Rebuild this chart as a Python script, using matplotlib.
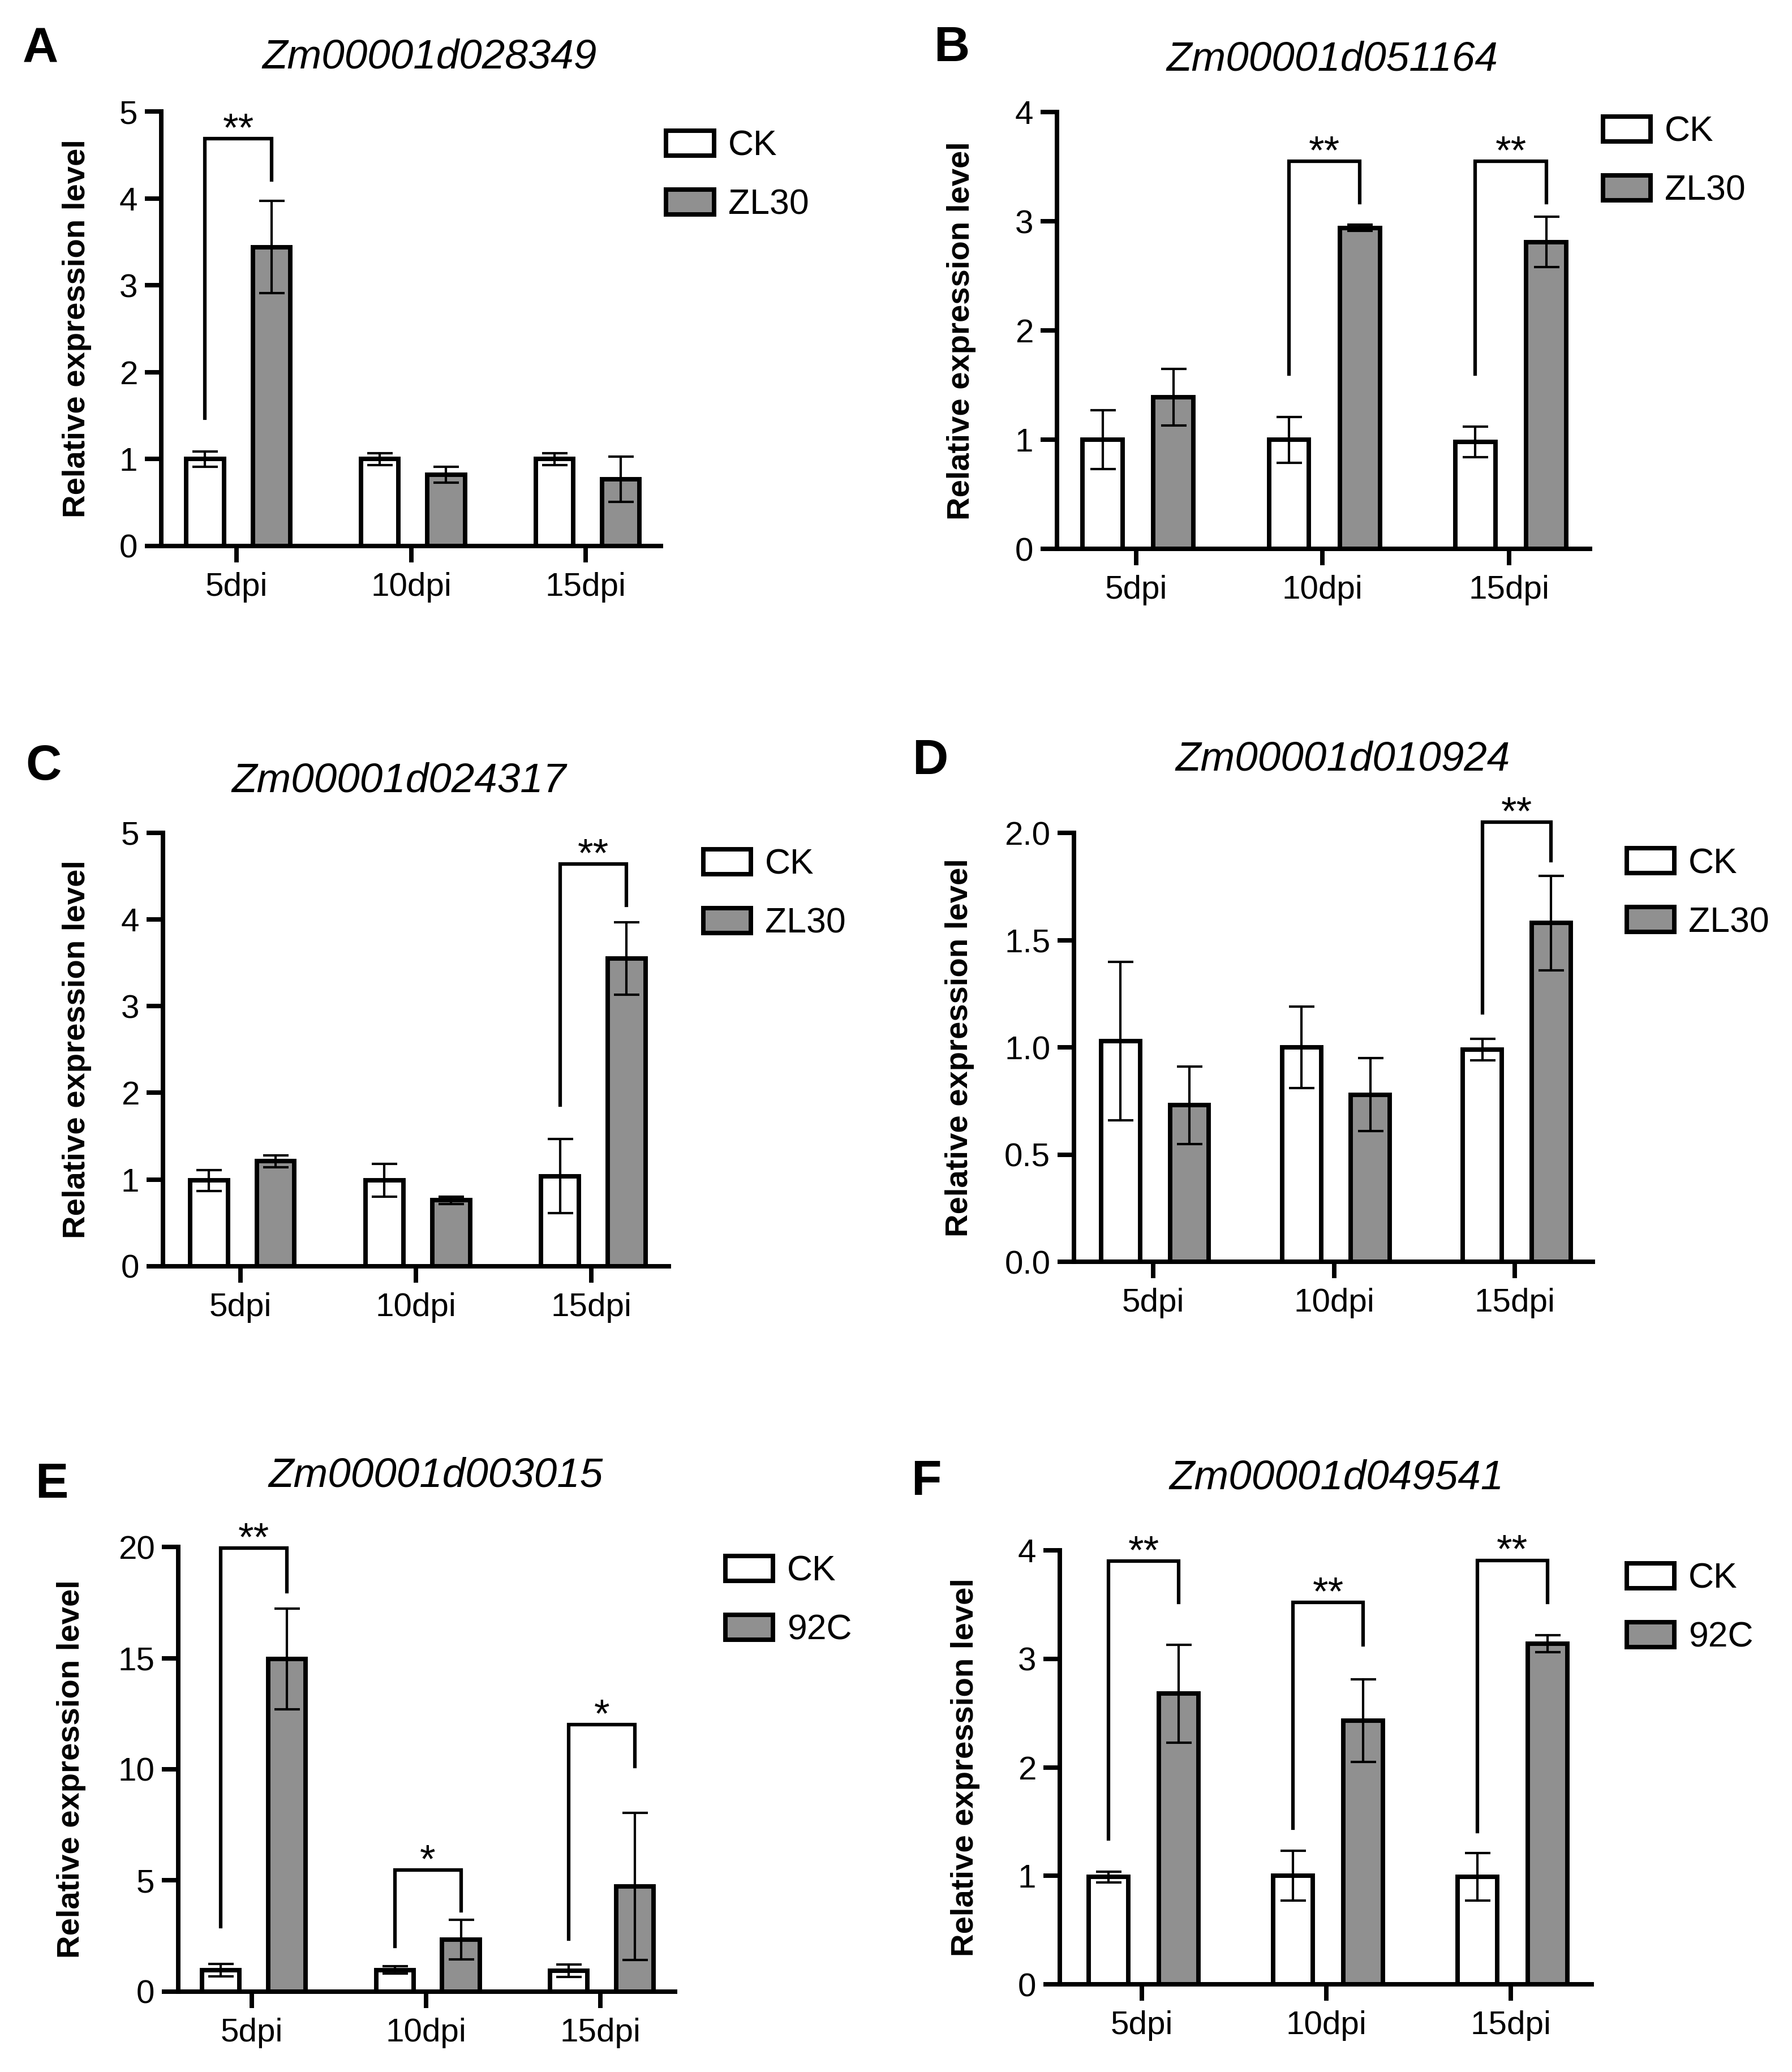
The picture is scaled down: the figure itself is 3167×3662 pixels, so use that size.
import numpy as np
import matplotlib
matplotlib.use('Agg')
import matplotlib.pyplot as plt

plt.rcParams['font.family'] = ['Liberation Sans', 'DejaVu Sans']

# ---- data ----
categories = ['5dpi', '10dpi', '15dpi']
genes = ['Zm00001d028349', 'Zm00001d051164', 'Zm00001d024317',
         'Zm00001d010924', 'Zm00001d003015', 'Zm00001d049541']
letters = ['A', 'B', 'C', 'D', 'E', 'F']
treatments = ['ZL30', 'ZL30', 'ZL30', 'ZL30', '92C', '92C']

a_ck = [1.00, 1.00, 1.00]
a_ck_err = [0.09, 0.07, 0.07]
a_trt = [3.44, 0.82, 0.77]
a_trt_err = [0.53, 0.09, 0.26]
a_sig = [(0, 4.69, 1.47, 4.21, '**')]
a_yticks = [0, 1, 2, 3, 4, 5]

b_ck = [1.00, 1.00, 0.98]
b_ck_err = [0.27, 0.21, 0.14]
b_trt = [1.39, 2.94, 2.81]
b_trt_err = [0.26, 0.03, 0.23]
b_sig = [(1, 3.55, 1.60, 3.17, '**'), (2, 3.55, 1.60, 3.17, '**')]
b_yticks = [0, 1, 2, 3, 4]

c_ck = [0.99, 0.99, 1.04]
c_ck_err = [0.12, 0.19, 0.43]
c_trt = [1.21, 0.76, 3.55]
c_trt_err = [0.07, 0.04, 0.42]
c_sig = [(2, 4.64, 1.86, 4.16, '**')]
c_yticks = [0, 1, 2, 3, 4, 5]

d_ck = [1.03, 1.00, 0.99]
d_ck_err = [0.37, 0.19, 0.05]
d_trt = [0.73, 0.78, 1.58]
d_trt_err = [0.18, 0.17, 0.22]
d_sig = [(2, 2.05, 1.16, 1.87, '**')]
d_yticks = [0.0, 0.5, 1.0, 1.5, 2.0]

e_ck = [0.97, 0.97, 0.94]
e_ck_err = [0.28, 0.17, 0.27]
e_trt = [14.96, 2.34, 4.73]
e_trt_err = [2.27, 0.88, 3.30]
e_sig = [(0, 19.95, 2.93, 18.0, '**'), (1, 5.47, 2.04, 3.64, '*'),
         (2, 12.0, 2.37, 10.13, '*')]
e_yticks = [0, 5, 10, 15, 20]

f_ck = [0.99, 1.00, 0.99]
f_ck_err = [0.05, 0.23, 0.22]
f_trt = [2.68, 2.43, 3.14]
f_trt_err = [0.45, 0.38, 0.08]
f_sig = [(0, 3.90, 1.34, 3.52, '**'), (1, 3.52, 1.44, 3.13, '**'),
         (2, 3.91, 1.41, 3.52, '**')]
f_yticks = [0, 1, 2, 3, 4]

panels = [
    (a_ck, a_ck_err, a_trt, a_trt_err, a_sig, a_yticks),
    (b_ck, b_ck_err, b_trt, b_trt_err, b_sig, b_yticks),
    (c_ck, c_ck_err, c_trt, c_trt_err, c_sig, c_yticks),
    (d_ck, d_ck_err, d_trt, d_trt_err, d_sig, d_yticks),
    (e_ck, e_ck_err, e_trt, e_trt_err, e_sig, e_yticks),
    (f_ck, f_ck_err, f_trt, f_trt_err, f_sig, f_yticks),
]

# ---- layout ----
rects = [[0.0900, 0.7365, 0.2788, 0.2097],
         [0.5898, 0.7351, 0.2974, 0.2108],
         [0.0909, 0.3889, 0.2823, 0.2092],
         [0.5993, 0.3910, 0.2895, 0.2070],
         [0.0995, 0.0388, 0.2772, 0.2146],
         [0.5914, 0.0423, 0.2968, 0.2094]]
xlims = [(-0.431, 2.43), (-0.425, 2.434), (-0.442, 2.44),
         (-0.438, 2.43), (-0.423, 2.43), (-0.445, 2.44)]
title_pos = [(0.2397, 0.9672), (0.7433, 0.9659), (0.2226, 0.6177),
             (0.7493, 0.6281), (0.2431, 0.2826), (0.7458, 0.2813)]
letter_pos = [(0.0126, 0.9700), (0.5210, 0.9705), (0.0142, 0.6237),
              (0.5090, 0.6264), (0.0196, 0.2772), (0.5084, 0.2785)]
legend_pos = [(0.3718, 0.9375), (0.8944, 0.9443), (0.3924, 0.5907),
              (0.9077, 0.5912), (0.4047, 0.2496), (0.9077, 0.2461)]
ylabel_x = [-0.139, -0.152, -0.141, -0.192, -0.186, -0.150]

OFF_CK = -0.18
OFF_TRT = 0.20
BAR_W = 0.215
GREY = '#909090'
LW = 1.9

fig = plt.figure(figsize=(3167 / 300, 3662 / 300), dpi=300)

for i in range(6):
    ck, ck_err, trt, trt_err, sig, yticks = panels[i]
    ax = fig.add_axes(rects[i])
    x = np.arange(len(categories))

    ax.bar(x + OFF_CK, ck, BAR_W, color='white', edgecolor='black',
           linewidth=LW, label='CK', zorder=2)
    ax.bar(x + OFF_TRT, trt, BAR_W, color=GREY, edgecolor='black',
           linewidth=LW, label=treatments[i], zorder=2)
    ax.errorbar(x + OFF_CK, ck, yerr=ck_err, fmt='none', ecolor='black',
                elinewidth=1.0, capsize=5.4, capthick=1.0, zorder=3)
    ax.errorbar(x + OFF_TRT, trt, yerr=trt_err, fmt='none', ecolor='black',
                elinewidth=1.0, capsize=5.4, capthick=1.0, zorder=3)

    for cat, top, lo_l, lo_r, mark in sig:
        xl = cat + OFF_CK
        xr = cat + OFF_TRT
        ax.plot([xl, xl, xr, xr], [lo_l, top, top, lo_r], color='black',
                lw=1.5, clip_on=False, solid_joinstyle='miter', zorder=4)
        ax.annotate(mark, ((xl + xr) / 2, top), xytext=(0, -1),
                    textcoords='offset points', ha='center', va='baseline',
                    fontsize=17, annotation_clip=False)

    ax.set_xlim(*xlims[i])
    ax.set_ylim(yticks[0], yticks[-1])
    ax.set_xticks(x, categories)
    ax.set_yticks(yticks)
    if i == 3:
        ax.set_yticklabels([f'{t:.1f}' for t in yticks])
    else:
        ax.set_yticklabels([f'{t:g}' for t in yticks])

    for s in ['top', 'right']:
        ax.spines[s].set_visible(False)
    for s in ['left', 'bottom']:
        ax.spines[s].set_linewidth(LW)
    ax.tick_params(axis='y', direction='out', length=7, width=LW,
                   labelsize=14, pad=3)
    ax.tick_params(axis='x', direction='out', length=7, width=LW,
                   labelsize=14, pad=4)

    ax.set_ylabel('Relative expression level', fontsize=13.5,
                  fontweight='bold')
    ax.yaxis.set_label_coords(ylabel_x[i], 0.5)

    ax.legend(loc='upper left', bbox_to_anchor=legend_pos[i],
              bbox_transform=fig.transFigure, frameon=False, fontsize=15,
              handlelength=1.35, handleheight=0.72, handletextpad=0.4,
              labelspacing=0.72, borderpad=0, borderaxespad=0)

    fig.text(title_pos[i][0], title_pos[i][1], genes[i], ha='center',
             va='baseline', fontsize=17.5, style='italic')
    fig.text(letter_pos[i][0], letter_pos[i][1], letters[i], ha='left',
             va='baseline', fontsize=21, fontweight='bold')

fig.savefig('out.png', dpi=300, facecolor='white')
